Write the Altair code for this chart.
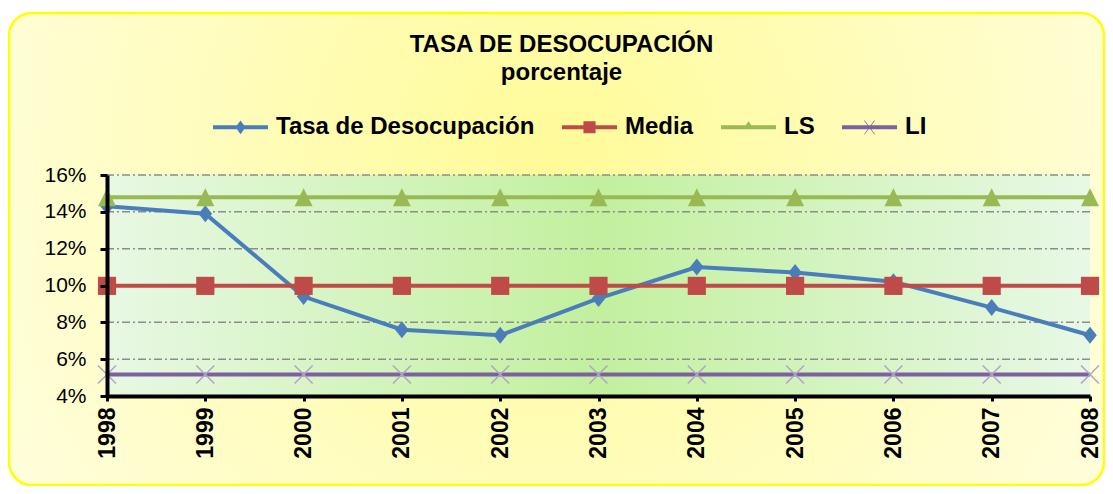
import altair as alt
import pandas as pd

# ---- data ----
years = [1998, 1999, 2000, 2001, 2002, 2003, 2004, 2005, 2006, 2007, 2008]
tasa = [14.3, 13.9, 9.4, 7.6, 7.3, 9.3, 11.0, 10.7, 10.2, 8.8, 7.3]
media = [9.98, 9.98, 9.98, 9.98, 9.98, 9.98, 9.98, 9.98, 9.98, 9.98, 9.98]
ls = [14.79, 14.79, 14.79, 14.79, 14.79, 14.79, 14.79, 14.79, 14.79, 14.79, 14.79]
li = [5.17, 5.17, 5.17, 5.17, 5.17, 5.17, 5.17, 5.17, 5.17, 5.17, 5.17]
series_names = ["Tasa de Desocupación", "Media", "LS", "LI"]
series_values = [tasa, media, ls, li]
y_ticks = [4, 6, 8, 10, 12, 14, 16]
grid_values = [6, 8, 10, 12, 14, 16]

# ---- styles ----
colors = ["#4A7EBB", "#BE4B48", "#98B954", "#7D60A0"]
marker_paths = [
    "M0,-1L0.8,0L0,1L-0.8,0Z",
    "M-1,-1H1V1H-1Z",
    "M0,-1L1,1H-1Z",
    "M-1,-1L1,1M-1,1L1,-1",
]
marker_sizes = [289, 330, 324, 324]
legend_paths = [
    "M-1,-0.07H1V0.07H-1Z M0,-0.25L0.18,0L0,0.25L-0.18,0Z",
    "M-1,-0.07H1V0.07H-1Z M-0.22,-0.22H0.22V0.22H-0.22Z",
    "M-1,-0.07H1V0.07H-1Z M0,-0.22L0.2,0.07H-0.2Z",
    "M-1,-0.07H1V0.07H-1Z M-0.2,-0.25L-0.17,-0.25L0.2,0.25L0.17,0.25Z M0.17,-0.25L0.2,-0.25L-0.17,0.25L-0.2,0.25Z",
]
FONT = "Liberation Sans"

W, H = 983, 221

long_df = pd.DataFrame(
    [{"year": y, "value": v, "series": s}
     for s, vals in zip(series_names, series_values)
     for y, v in zip(years, vals)]
)

xscale = alt.Scale(domain=[min(years), max(years)], nice=False, zero=False)
yscale = alt.Scale(domain=[min(y_ticks), max(y_ticks)], nice=False, zero=False)

xaxis = alt.Axis(values=years, format="d", title=None, grid=False, labelAngle=270,
                 labelFont=FONT, labelFontSize=23, labelFontWeight="bold", labelColor="black",
                 labelPadding=6, domainColor="black", domainWidth=4, tickColor="black",
                 tickWidth=3, tickSize=5, zindex=1)
yaxis = alt.Axis(values=y_ticks, labelExpr="datum.value + '%'", title=None, grid=False,
                 labelFont=FONT, labelFontSize=21, labelColor="black", labelPadding=14,
                 domainColor="black", domainWidth=4, tickColor="black", tickWidth=3,
                 tickSize=7, zindex=1)

X = alt.X("year:Q", scale=xscale, axis=xaxis)
Y = alt.Y("value:Q", scale=yscale, axis=yaxis)

frame_fill = {
    "gradient": "radial", "x1": 0.5, "y1": 0.42, "r1": 0, "x2": 0.5, "y2": 0.42, "r2": 0.72,
    "stops": [{"offset": 0, "color": "#FFFB98"}, {"offset": 0.55, "color": "#FFFDC6"},
              {"offset": 1, "color": "#FFFFEC"}],
}
plot_fill = {
    "gradient": "linear", "x1": 0, "y1": 0, "x2": 1, "y2": 0,
    "stops": [{"offset": 0, "color": "#E8F8E4"}, {"offset": 0.5, "color": "#C2F09E"},
              {"offset": 1, "color": "#E8F8E6"}],
}

frame = alt.Chart(pd.DataFrame({"k": [0]})).mark_rect(
    cornerRadius=23, fill=frame_fill, stroke="#FFFF00", strokeWidth=2.5
).encode(x=alt.value(-98), x2=alt.value(997), y=alt.value(-162), y2=alt.value(310))

bg_df = pd.DataFrame({"year": [min(years)], "year2": [max(years)],
                      "value": [min(y_ticks)], "value2": [max(y_ticks)]})
plot_bg = alt.Chart(bg_df).mark_rect(fill=plot_fill).encode(
    x=X, x2="year2:Q", y=Y, y2="value2:Q")

grid = alt.Chart(pd.DataFrame({"value": grid_values})).mark_rule(
    color="#8C8C8C", strokeWidth=1.5, strokeDash=[8, 3, 2, 3]
).encode(y=Y)

layers = [frame, plot_bg, grid]
for name, col, path, size in zip(series_names, colors, marker_paths, marker_sizes):
    d = long_df[long_df["series"] == name]
    layers.append(alt.Chart(d).mark_line(color=col, strokeWidth=4).encode(x=X, y=Y))
    if name == "LI":
        pt = alt.Chart(d).mark_point(shape=path, size=size, filled=False, stroke="#B3A2C7",
                                     strokeWidth=1.5, opacity=1)
    else:
        pt = alt.Chart(d).mark_point(shape=path, size=size, filled=True, color=col, opacity=1)
    layers.append(pt.encode(x=X, y=Y))

leg = alt.Legend(orient="none", legendX=106, legendY=-75.5, direction="horizontal",
                 title=None, symbolSize=3025, symbolStrokeWidth=0, symbolOpacity=1,
                 labelFont=FONT, labelFontSize=24, labelFontWeight="bold", labelColor="black",
                 labelOffset=8, columnPadding=27, padding=0, labelLimit=500)
legend_layer = alt.Chart(long_df).transform_filter("false").mark_point(filled=True).encode(
    x=X, y=Y,
    color=alt.Color("series:N", scale=alt.Scale(domain=series_names, range=colors), legend=leg),
    shape=alt.Shape("series:N", scale=alt.Scale(domain=series_names, range=legend_paths), legend=leg),
)
layers.append(legend_layer)

chart = alt.layer(*layers).properties(
    width=W, height=H,
    title=alt.TitleParams(text="TASA DE DESOCUPACIÓN", subtitle="porcentaje", anchor="middle",
                          dx=-37, dy=77, font=FONT, fontSize=24, fontWeight="bold", color="black",
                          subtitleFont=FONT, subtitleFontSize=24, subtitleFontWeight="bold",
                          subtitleColor="black", subtitlePadding=4),
    autosize=alt.AutoSizeParams(type="none"),
    padding={"left": 99, "top": 167, "right": 15, "bottom": 90},
    background="white",
).configure_view(stroke=None)

chart.save("out.html", embed_options={"renderer": "svg", "actions": False})
